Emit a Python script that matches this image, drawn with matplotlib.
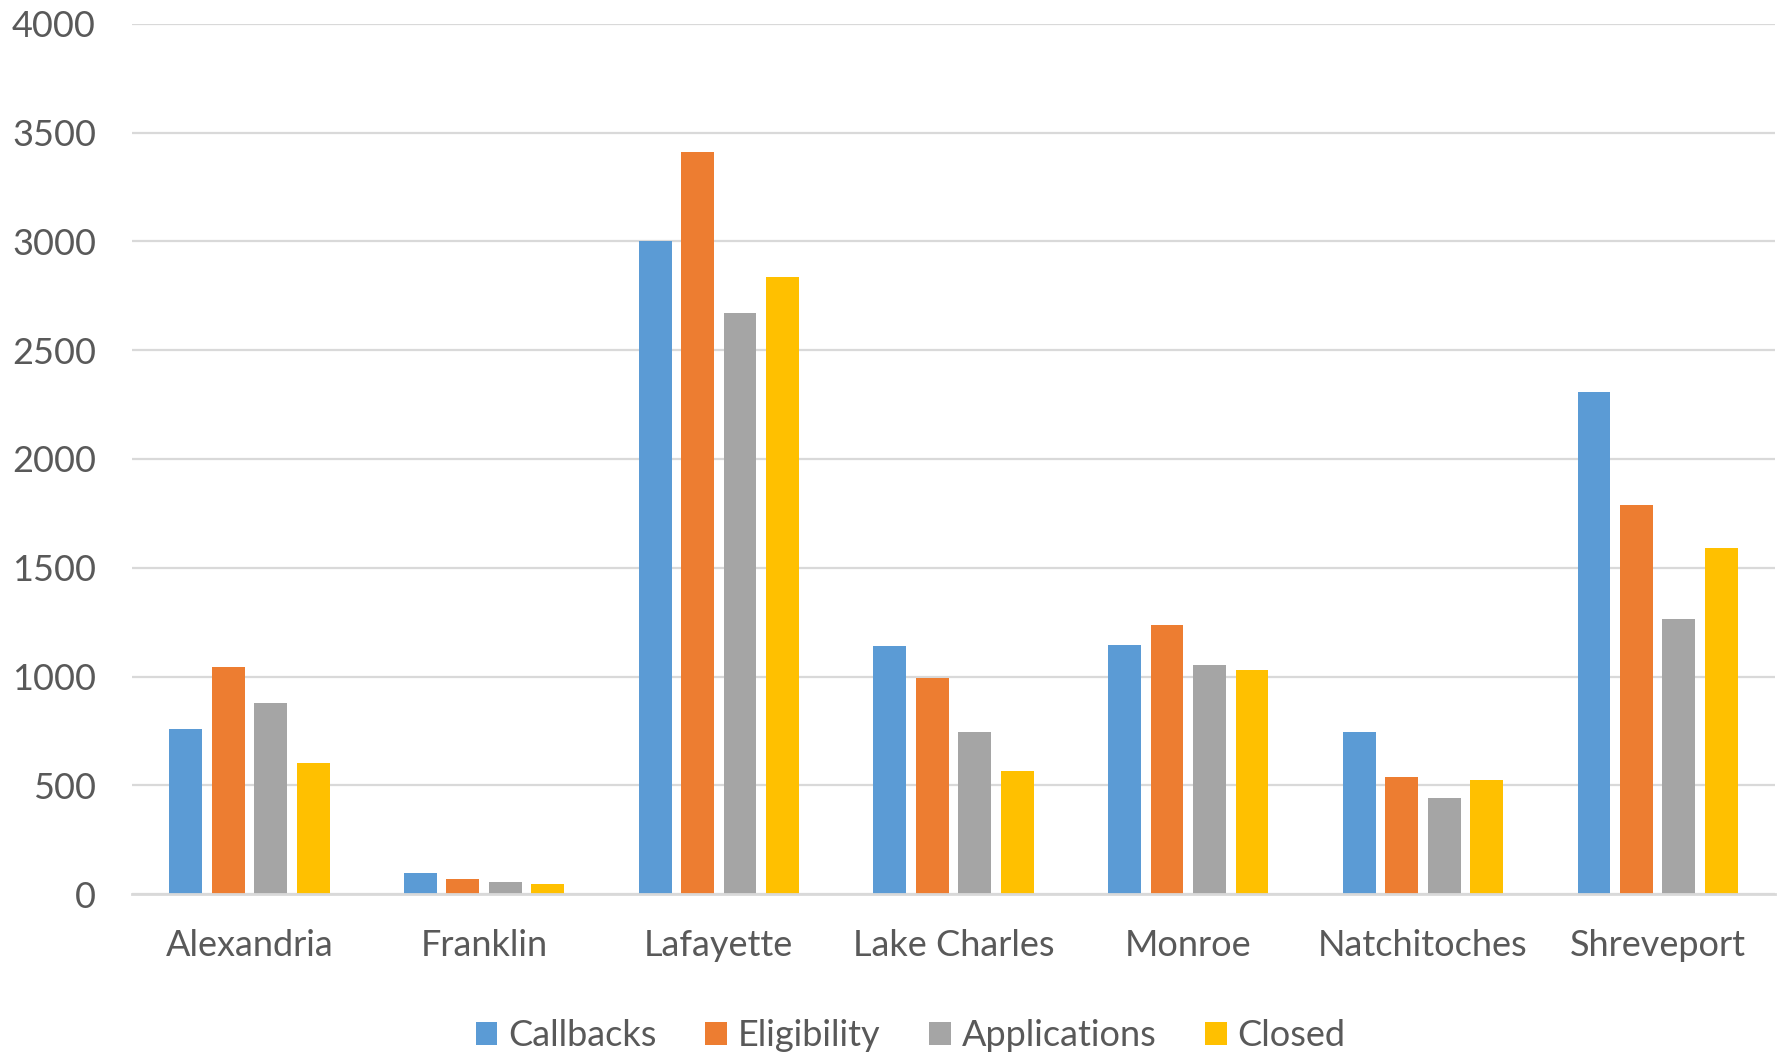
import numpy as np
import matplotlib
matplotlib.use('Agg')
import matplotlib.pyplot as plt

# --datos
cities = ['Alexandria', 'Franklin', 'Lafayette', 'Lake Charles', 'Monroe', 'Natchitoches', 'Shreveport']
callbacks = [759, 95, 3000, 1139, 1144, 744, 2308]
eligibility = [1045, 67, 3410, 993, 1238, 536, 1787]
applications = [877, 54, 2673, 744, 1051, 442, 1266]
closed = [601, 46, 2837, 567, 1030, 525, 1590]

series = ['Callbacks', 'Eligibility', 'Applications', 'Closed']
values = [callbacks, eligibility, applications, closed]
colors = ['#5B9BD5', '#ED7D31', '#A5A5A5', '#FFC000']

plt.rcParams['font.family'] = ['Lato', 'DejaVu Sans']
text_color = '#595959'
grid_color = '#D9D9D9'

fig = plt.figure(figsize=(17.77, 10.56), dpi=100)
ax = fig.add_axes([0.0743, 0.1534, 0.9246, 0.8239])

x = np.arange(len(cities))
step = 0.181
width = 0.14
for i in range(4):
    ax.bar(x + (i - 1.5) * step, values[i], width, color=colors[i], label=series[i], zorder=3)

ax.set_xlim(-0.5, len(cities) - 0.5)
ax.set_ylim(0, 4000)
ax.set_yticks(np.arange(0, 4001, 500))
ax.set_xticks(x)
ax.set_xticklabels(cities)

ax.grid(axis='y', color=grid_color, linewidth=1.6, zorder=0)
for s in ['top', 'right', 'left']:
    ax.spines[s].set_visible(False)
ax.spines['bottom'].set_color(grid_color)
ax.spines['bottom'].set_linewidth(2)
ax.spines['bottom'].set_zorder(4)
ax.tick_params(axis='both', length=0, labelsize=26, colors=text_color)
ax.tick_params(axis='y', pad=26)
ax.tick_params(axis='x', pad=25)

fig.legend(loc='center', bbox_to_anchor=(0.5124, 0.019), ncol=4, frameon=False,
           fontsize=26, handlelength=0.6, handleheight=0.6, handletextpad=0.3,
           columnspacing=1.35, labelcolor=text_color)

fig.savefig('out.png', dpi=100)
